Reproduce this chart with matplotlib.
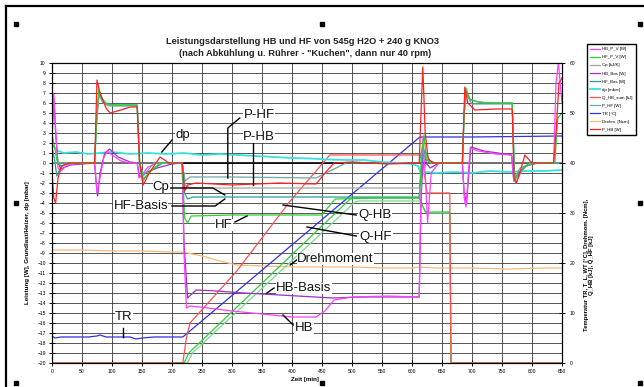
import matplotlib
matplotlib.use("Agg")
import matplotlib.pyplot as plt
from matplotlib.lines import Line2D
from matplotlib.patches import Rectangle

plt.rcParams["font.family"] = ["Liberation Sans", "DejaVu Sans"]

W, H = 644, 387

TITLE_1 = "Leistungsdarstellung HB und HF von 545g H2O + 240 g KNO3"
TITLE_2 = "(nach Abkühlung u. Rührer - \"Kuchen\", dann nur 40 rpm)"
X_LABEL = "Zeit [min]"
Y_LABEL = "Leistung [W], Grundlast/Heizer, dp [mbar]"
Y2_LABEL = "Temperatur TR, T_L, WT [°C], Drehmom. [Ncm],\nQ_HB [kJ], Q_HF [kJ]"

# --- measured channels: time [min] and value on the left (power) scale ---
hb_t = [0, 3, 6, 10, 15, 25, 50, 71, 73, 75, 80, 86, 92, 100, 115, 130, 142, 145, 150, 160, 175,
        217, 220, 224, 230, 260, 300, 350, 400, 440, 455, 470, 500, 560, 612, 615, 618, 622, 626,
        632, 645, 684, 687, 690, 697, 710, 740, 766, 769, 773, 785, 800, 836, 840, 844, 850]
hb_v = [2.0, 7.0, 3.5, -0.5, -0.8, -0.2, 0.0, 0.0, -1.5, -3.0, -1.5, 0.5, 1.2, 0.8, 0.2, 0.0, 0.0,
        -1.5, -1.2, -0.4, 0.0, 0.0, -9.0, -14.5, -14.3, -14.5, -14.8, -15.1, -15.4, -15.4, -14.8,
        -13.7, -13.4, -13.3, -13.4, -3.0, 2.5, -1.0, -6.0, -1.0, 0.0, 0.0, -3.5, -4.4, 1.5, 1.2,
        0.9, 0.8, -1.5, -2.0, -0.5, 0.0, 0.0, 8.0, 10.0, 6.0]

hbb_t = [0, 3, 6, 10, 15, 30, 71, 73, 76, 80, 88, 96, 110, 130, 142, 146, 155, 175, 200, 217, 220,
         226, 240, 275, 320, 380, 468, 520, 612, 615, 619, 624, 630, 645, 684, 687, 691, 698, 720,
         766, 770, 776, 790, 810, 850]
hbb_v = [3.0, 6.5, 3.0, 0.0, -0.6, -0.2, 0.0, -1.5, -3.3, -1.0, 1.0, 1.4, 0.6, 0.1, 0.0, -1.4,
         -1.0, -0.5, -0.1, 0.0, -8.0, -13.5, -12.7, -12.8, -13.0, -13.2, -13.5, -13.4, -13.4, -4.0,
         1.5, 0.0, -0.5, 0.0, 0.0, -3.0, -4.0, 1.6, 1.2, 0.8, -1.8, -1.2, -0.3, 0.0, 0.0]

hf_t = [0, 3, 8, 15, 30, 71, 74, 78, 84, 92, 110, 142, 146, 152, 165, 180, 217, 221, 226, 232, 300,
        400, 450, 462, 472, 540, 612, 616, 620, 624, 630, 640, 684, 687, 690, 696, 710, 740, 767,
        771, 776, 790, 805, 838, 843, 850]
hf_v = [2.8, 2.0, 0.3, -0.3, 0.0, 0.0, 4.0, 7.4, 6.4, 5.9, 5.8, 5.8, 0.0, -1.6, -0.8, 0.0, 0.0,
        -5.5, -6.0, -5.3, -5.2, -5.2, -5.2, -4.3, -3.6, -3.5, -3.5, 1.0, 2.8, 0.3, 0.1, 0.0, 0.0,
        5.0, 7.5, 6.4, 6.1, 6.0, 6.0, -1.8, -1.2, -0.3, 0.0, 0.0, 4.5, 5.0]

hfb_t = [0, 4, 8, 14, 25, 71, 74, 78, 84, 92, 142, 146, 151, 165, 185, 217, 221, 226, 235, 400,
         612, 617, 622, 630, 640, 684, 687, 690, 697, 720, 767, 771, 777, 795, 850]
hfb_v = [1.5, 0.5, -1.3, -0.5, 0.0, 0.0, 4.0, 7.0, 6.2, 5.8, 5.8, 0.0, -1.8, -0.7, 0.0, 0.0, -3.0,
         -3.6, -3.4, -3.4, -3.4, 0.5, 1.2, 0.2, 0.0, 0.0, 5.0, 7.2, 6.3, 6.0, 6.0, -1.6, -1.0, 0.0,
         0.0]

phf_t = [0, 71, 74, 78, 85, 95, 142, 146, 152, 170, 217, 222, 230, 300, 440, 470, 490, 612, 617,
         622, 632, 684, 687, 691, 700, 767, 771, 780, 800, 850]
phf_v = [0.0, 0.0, 3.5, 6.8, 6.0, 5.7, 5.7, 0.0, -1.3, 0.0, 0.0, -1.8, -1.4, -1.4, -1.5, -0.6, 0.0,
         0.0, 1.5, 0.5, 0.0, 0.0, 5.0, 6.8, 5.9, 5.9, -1.4, -0.5, 0.0, 0.0]

phb_t = [0, 3, 6, 10, 16, 28, 71, 73, 75, 80, 90, 97, 115, 130, 142, 146, 152, 162, 180, 195, 217,
         221, 226, 240, 300, 380, 440, 455, 470, 500, 560, 612, 615, 618, 622, 627, 635, 684, 686,
         688, 693, 705, 740, 767, 770, 774, 782, 788, 800, 836, 840, 845, 850]
phb_v = [-1.0, -3.5, -4.0, -1.5, -0.3, 0.0, 0.0, 4.0, 8.3, 7.0, 5.5, 5.0, 5.3, 5.6, 5.6, 0.0, -2.2,
         -1.0, 0.6, 0.0, 0.0, -2.8, -2.2, -2.0, -2.2, -2.0, -2.1, -1.0, 0.0, 0.1, -0.1, 0.0, 5.0,
         9.6, 3.0, 0.4, 0.0, 0.0, 4.0, 7.6, 6.0, 5.3, 5.4, 5.4, -1.5, -2.0, -0.5, 0.8, 0.0, 0.0,
         3.0, 8.0, 8.5]

cp_t = [0, 217, 222, 230, 612, 616, 625, 850]
cp_v = [0.0, 0.0, -2.2, -2.5, -2.5, -1.0, 0.0, 0.0]

dp_t = [0, 10, 20, 40, 60, 80, 100, 130, 160, 190, 220, 250, 280, 310, 340, 370, 400, 430, 460,
        490, 520, 550, 580, 600, 610, 616, 625, 640, 670, 700, 730, 760, 790, 820, 850]
dp_v = [1.8, 1.2, 1.0, 1.1, 0.9, 1.0, 1.1, 0.9, 1.0, 0.9, 1.0, 0.8, 0.9, 0.8, 0.7, 0.6, 0.5, 0.45,
        0.35, 0.3, 0.3, 0.1, 0.0, -0.1, -0.3, -1.2, -0.9, -1.0, -0.9, -1.0, -0.8, -0.9, -0.8, -0.8,
        -0.7]

tr_t = [0, 5, 15, 40, 60, 75, 80, 90, 110, 130, 140, 150, 170, 200, 218, 613, 620, 700, 850]
tr_v = [-17.3, -17.5, -17.4, -17.4, -17.4, -17.3, -17.2, -17.4, -17.4, -17.4, -17.6, -17.5, -17.4,
        -17.4, -17.4, 2.6, 2.6, 2.6, 2.7]

qhb_t = [0, 218, 224, 230, 308, 397, 463, 470, 613, 616, 625, 663, 665, 850]
qhb_v = [-20.0, -20.0, -17.5, -16.0, -10.8, -3.8, 0.8, 0.8, 0.8, 0.9, -3.0, -3.0, -20.0, -20.0]

qhf_t = [0, 220, 228, 497, 505, 612, 622, 663, 665, 850]
qhf_v = [-20.0, -20.0, -19.0, -3.6, -3.5, -3.5, -4.9, -4.9, -20.0, -20.0]

qhf2_t = [0, 226, 234, 505, 512, 612, 625, 663, 665, 850]
qhf2_v = [-20.0, -20.0, -19.0, -3.9, -3.8, -3.8, -5.0, -5.0, -20.0, -20.0]

torque_t = [0, 50, 100, 150, 200, 218, 250, 280, 308, 350, 400, 450, 500, 550, 600, 613, 640, 700,
            760, 820, 850]
torque_v = [-8.7, -8.7, -8.8, -8.8, -8.9, -8.9, -9.3, -9.8, -10.2, -10.3, -10.4, -10.4, -10.4,
            -10.5, -10.5, -10.4, -10.5, -10.5, -10.6, -10.5, -10.5]

x_ticks = list(range(0, 851, 50))
y_ticks = list(range(-20, 11))
y2_ticks = list(range(0, 61, 10))

# (data, colour, line width, legend text); drawn back to front
series = [
    (torque_t, torque_v, "#ffb878", 0.9, "Drehm. [Ncm]"),
    (qhf2_t, qhf2_v, "#7fd88f", 0.9, None),
    (qhf_t, qhf_v, "#2ecc40", 0.9, None),
    (tr_t, tr_v, "#3030e8", 0.9, "TR [°C]"),
    (qhb_t, qhb_v, "#ff5050", 0.9, "Q_HB_sum [kJ]"),
    (dp_t, dp_v, "#38e0e0", 1.3, "dp [mbar]"),
    (cp_t, cp_v, "#a0a8a0", 0.9, "Cp [kJ/K]"),
    (hbb_t, hbb_v, "#9b30c8", 0.9, "HB_Bas [W]"),
    (hb_t, hb_v, "#ff40ff", 0.9, "HB_P_V [W]"),
    (hfb_t, hfb_v, "#2f9c9c", 0.9, "HF_Bas [W]"),
    (phf_t, phf_v, "#70a8a0", 0.9, "P_HF [W]"),
    (hf_t, hf_v, "#30d030", 0.9, "HF_P_V [W]"),
    (phb_t, phb_v, "#ff2020", 0.9, "P_HB [W]"),
]
legend_order = ["HB_P_V [W]", "HF_P_V [W]", "Cp [kJ/K]", "HB_Bas [W]", "HF_Bas [W]", "dp [mbar]",
                "Q_HB_sum [kJ]", "P_HF [W]", "TR [°C]", "Drehm. [Ncm]", "P_HB [W]"]

# label text, text position, leader line path (data coords)
callouts = [
    ("dp", (218, 2.8), [(200, 2.3), (183, 1.1)]),
    ("P-HF", (345, 4.8), [(313, 4.5), (293, 3.5), (293, -1.5)]),
    ("P-HB", (345, 2.6), [(335, 2.2), (335, -2.2)]),
    ("Cp", (182, -2.4), [(197, -2.5), (268, -2.5), (288, -3.2)]),
    ("HF-Basis", (148, -4.3), [(200, -4.3), (272, -4.3), (288, -3.6)]),
    ("HF", (287, -6.2), [(305, -5.9), (325, -5.3)]),
    ("Q-HB", (538, -5.2), [(385, -4.2), (507, -5.2)]),
    ("Q-HF", (540, -7.4), [(425, -6.4), (507, -7.3)]),
    ("Drehmoment", (472, -9.6), [(397, -10.2), (410, -9.6)]),
    ("HB-Basis", (420, -12.5), [(358, -13.0), (370, -12.5)]),
    ("HB", (420, -16.5), [(385, -15.2), (402, -16.2)]),
    ("TR", (120, -15.4), [(118, -16.5), (118, -17.4)]),
]


def fx(x):
    return x / W


def fy(y):
    return 1 - y / H


fig = plt.figure(figsize=(W / 100, H / 100), dpi=100)
ax = fig.add_axes([fx(52), fy(363), 510 / W, 300 / H])

ax.set_xlim(0, 850)
ax.set_ylim(-20, 10)
ax.set_xticks(x_ticks)
ax.set_yticks(y_ticks)
ax.grid(True, color="#2a2a2a", linewidth=0.55, zorder=0)
ax.set_axisbelow(True)
ax.axhline(0, color="black", linewidth=1.2, zorder=1)
ax.tick_params(axis="both", direction="inout", length=5, width=0.7, labelsize=3.6, pad=2)
for sp in ax.spines.values():
    sp.set_linewidth(0.8)

handles = {}
for t, v, color, lw, name in series:
    line, = ax.plot(t, v, color=color, linewidth=lw, zorder=2)
    if name:
        handles[name] = line

for text, (tx, tv), path in callouts:
    xs = [p[0] for p in path]
    vs = [p[1] for p in path]
    ax.plot(xs, vs, color="black", linewidth=1.0, zorder=4)
    ax.text(tx, tv, text, fontsize=9.5, color="#111111", ha="center", va="center", zorder=5,
            bbox=dict(facecolor="white", edgecolor="none", pad=0.2))

ax2 = ax.twinx()
ax2.set_ylim(0, 60)
ax2.set_yticks(y2_ticks)
ax2.tick_params(axis="y", direction="inout", length=5, width=0.7, labelsize=3.6, pad=3)
for sp in ax2.spines.values():
    sp.set_linewidth(0.8)

fig.legend([handles[n] for n in legend_order], legend_order, loc="upper left",
           bbox_to_anchor=(fx(585), fy(42)), fontsize=3.2, frameon=True, fancybox=False,
           edgecolor="black", framealpha=1, borderpad=0.7, handlelength=2.2, handletextpad=0.5,
           labelspacing=0.88)

fig.text(fx(302), fy(41), TITLE_1, ha="center", va="center", fontsize=6.7, fontweight="bold",
         color="#222222")
fig.text(fx(305), fy(53), TITLE_2, ha="center", va="center", fontsize=6.7, fontweight="bold",
         color="#222222")
fig.text(fx(305), fy(380), X_LABEL, ha="center", va="center", fontsize=4.5, fontweight="bold")
fig.text(fx(27), fy(243), Y_LABEL, ha="center", va="center", rotation=90, fontsize=4.5,
         fontweight="bold")
fig.text(fx(589), fy(265), Y2_LABEL, ha="center", va="center", rotation=90, fontsize=4.2,
         fontweight="bold")

# chart frame and selection handles
fig.add_artist(Line2D([fx(6), 1], [fy(6), fy(6)], color="black", linewidth=1.6))
fig.add_artist(Line2D([fx(6), fx(6)], [fy(6), 0], color="black", linewidth=1.6))
for hx, hy in [(16, 24), (322, 24), (640, 24), (16, 203), (640, 203), (16, 383), (322, 383),
               (640, 383)]:
    fig.add_artist(Rectangle((fx(hx - 2), fy(hy + 2)), 4 / W, 4 / H, color="black",
                             transform=fig.transFigure))

fig.savefig("out.png", dpi=100)
